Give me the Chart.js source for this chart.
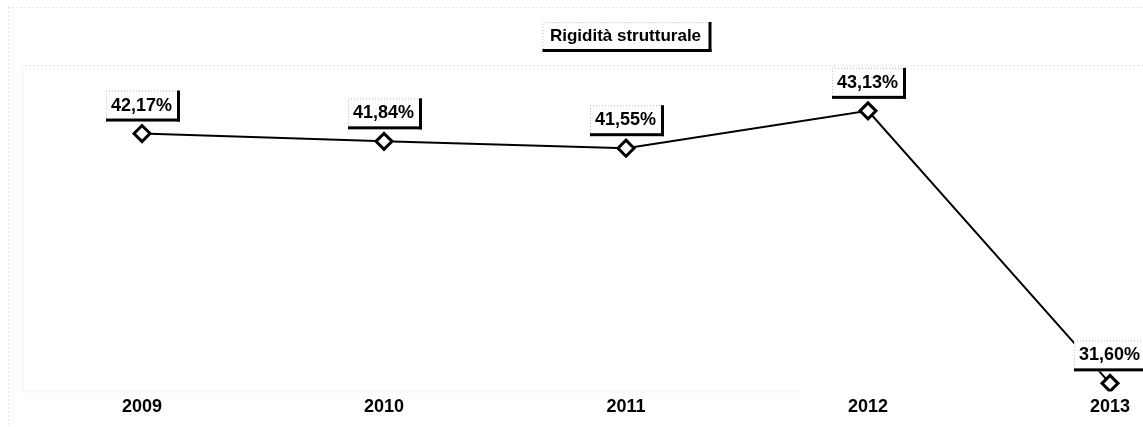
<!DOCTYPE html>
<html>
<head>
<meta charset="utf-8">
<script src="https://cdn.jsdelivr.net/npm/chart.js@4/dist/chart.umd.min.js"></script>
<style>
  html, body { margin: 0; padding: 0; background: #fff; }
  #wrap { width: 1143px; height: 427px; position: relative; }
</style>
</head>
<body>
<div id="wrap"><canvas id="rigidityChart" width="1143" height="427"></canvas></div>
<script>
// dati
const anni = ['2009', '2010', '2011', '2012', '2013'];
const rigidita = [42.17, 41.84, 41.55, 43.13, 31.60];
const titolo = 'Rigidità strutturale';

const FONT = '"Liberation Sans", Arial, sans-serif';

function formatPct(v) {
    return v.toFixed(2).replace('.', ',') + '%';
}

// riquadro con ombra nera a destra e in basso
function drawShadowBox(ctx, left, top, w, h) {
    ctx.save();
    ctx.fillStyle = '#fff';
    ctx.fillRect(left, top, w, h);
    ctx.strokeStyle = '#bbb';
    ctx.lineWidth = 1;
    ctx.setLineDash([1, 2]);
    ctx.beginPath();
    ctx.moveTo(left + 0.5, top + h);
    ctx.lineTo(left + 0.5, top + 0.5);
    ctx.lineTo(left + w, top + 0.5);
    ctx.stroke();
    ctx.setLineDash([]);
    ctx.fillStyle = '#000';
    ctx.fillRect(left + w - 3, top, 3, h);
    ctx.fillRect(left, top + h - 3, w, 3);
    ctx.restore();
}

// etichette dei valori sopra i punti
const valueLabels = {
    id: 'valueLabels',
    afterDatasetsDraw(chart) {
        const ctx = chart.ctx;
        const meta = chart.getDatasetMeta(0);
        meta.data.forEach(function(pt, i) {
            const w = 74, h = 31;
            const left = pt.x - w / 2 + 1;
            const top = pt.y - 12 - h;
            drawShadowBox(ctx, left, top, w, h);
            ctx.save();
            ctx.fillStyle = '#000';
            ctx.font = 'bold 18px ' + FONT;
            ctx.textAlign = 'center';
            ctx.textBaseline = 'middle';
            ctx.fillText(formatPct(rigidita[i]), left + (w - 3) / 2, top + (h - 3) / 2 + 1);
            ctx.restore();
        });
    }
};

// titolo nel riquadro
const titleBox = {
    id: 'titleBox',
    afterDraw(chart) {
        const ctx = chart.ctx;
        const a = chart.chartArea;
        const cx = (a.left + a.right) / 2;
        const w = 169, h = 30;
        const left = cx - w / 2 + 1, top = 22;
        drawShadowBox(ctx, left, top, w, h);
        ctx.save();
        ctx.fillStyle = '#000';
        ctx.font = 'bold 17px ' + FONT;
        ctx.textAlign = 'center';
        ctx.textBaseline = 'middle';
        ctx.fillText(titolo, left + (w - 3) / 2, top + (h - 3) / 2 + 1);
        ctx.restore();
    }
};

// cornice tratteggiata leggera dell'area del grafico
const faintFrame = {
    id: 'faintFrame',
    beforeDraw(chart) {
        const ctx = chart.ctx;
        const a = chart.chartArea;
        ctx.save();
        ctx.strokeStyle = '#d0d0d0';
        ctx.lineWidth = 1;
        ctx.setLineDash([1, 3]);
        ctx.beginPath();
        ctx.moveTo(chart.width, a.top + 0.5);
        ctx.lineTo(22.5, a.top + 0.5);
        ctx.lineTo(22.5, a.bottom + 0.5);
        ctx.lineTo(800, a.bottom + 0.5);
        ctx.moveTo(8.5, 7.5);
        ctx.lineTo(8.5, chart.height);
        ctx.moveTo(8.5, 7.5);
        ctx.lineTo(chart.width, 7.5);
        ctx.stroke();
        ctx.restore();
    }
};

document.addEventListener('DOMContentLoaded', function() {
    const ctx = document.getElementById('rigidityChart').getContext('2d');

    new Chart(ctx, {
        type: 'line',
        data: {
            labels: anni,
            datasets: [{
                label: titolo,
                data: rigidita,
                borderColor: '#000',
                borderWidth: 2,
                tension: 0,
                pointStyle: 'rectRot',
                pointRadius: 8,
                pointBorderWidth: 3,
                pointBorderColor: '#000',
                pointBackgroundColor: '#fff'
            }]
        },
        options: {
            responsive: false,
            animation: false,
            layout: {
                padding: { left: 142, right: 33, top: 65, bottom: 4 }
            },
            scales: {
                x: {
                    offset: false,
                    grid: { display: false, drawTicks: false, tickLength: 0 },
                    border: { display: false },
                    ticks: {
                        color: '#000',
                        padding: 5,
                        font: { family: FONT, size: 18, weight: 'bold' }
                    }
                },
                y: {
                    display: false,
                    min: 31.26,
                    max: 45.07
                }
            },
            plugins: {
                legend: { display: false },
                tooltip: { enabled: false },
                title: { display: false }
            }
        },
        plugins: [faintFrame, valueLabels, titleBox]
    });
});
</script>
</body>
</html>
